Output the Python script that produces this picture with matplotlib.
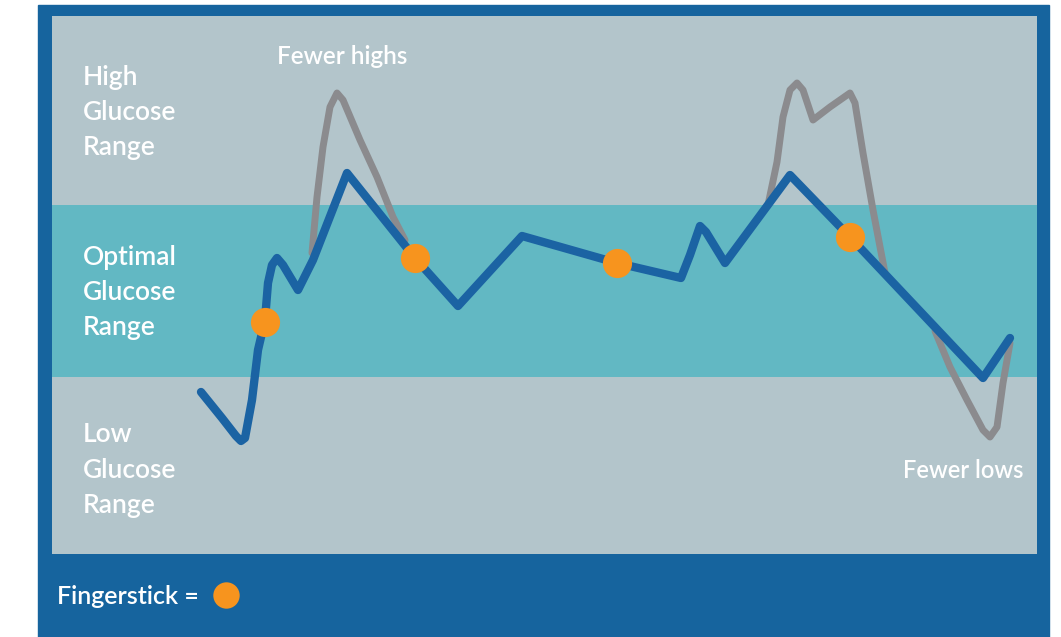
import matplotlib
matplotlib.use("Agg")
import matplotlib.pyplot as plt
from matplotlib.patches import Rectangle
from matplotlib.lines import Line2D

# time (arbitrary units) and glucose level (arbitrary units)
cgm_x = [149, 170, 184, 189, 193, 200, 206, 213, 216, 220, 225, 231, 246, 261, 295,
         363, 406, 470, 565, 629, 638, 648, 654, 673, 738, 798, 931, 958]
cgm_y = [162, 136, 118, 113, 116, 154, 204, 234, 271, 289, 296, 289, 264, 294, 381,
         296, 248, 318, 291, 276, 299, 328, 322, 291, 379, 317, 176, 216]

high1_x = [260, 265, 271, 278, 285, 291, 308, 325, 341, 353]
high1_y = [301, 357, 407, 447, 461, 454, 414, 377, 337, 314]
high2_x = [716, 725, 731, 738, 745, 751, 761, 778, 798, 803, 811, 821, 833]
high2_y = [349, 392, 437, 464, 471, 464, 434, 447, 461, 451, 401, 344, 281]
low_x = [883, 898, 915, 931, 938, 945, 951, 958]
low_y = [223, 187, 154, 124, 117, 127, 171, 211]

stick_x = [213, 363, 565, 798]
stick_y = [232, 296, 291, 317]

band_low, band_high = 177, 349
range_labels = ["High\nGlucose\nRange", "Optimal\nGlucose\nRange", "Low\nGlucose\nRange"]
range_label_y = [442, 262, 84]

frame_blue = "#16649e"
panel_gray = "#b3c5cb"
teal = "#62b8c3"
line_blue = "#1b63a3"
line_gray = "#8b8b8e"
orange = "#f7941e"

plt.rcParams["font.family"] = ["Lato", "DejaVu Sans"]

fig = plt.figure(figsize=(10.61, 6.37), dpi=100)
fig.patch.set_facecolor("white")
fig.patches.append(Rectangle((38 / 1061, 0), (1049 - 38) / 1061, (637 - 5) / 637,
                             transform=fig.transFigure, color=frame_blue, zorder=-5))

ax = fig.add_axes([52 / 1061, (637 - 554) / 637, (1037 - 52) / 1061, (554 - 16) / 637])
ax.set_zorder(2)
ax.set_facecolor(panel_gray)
ax.set_xlim(0, 985)
ax.set_ylim(0, 538)
ax.axhspan(band_low, band_high, color=teal, lw=0, zorder=0)
for s in ax.spines.values():
    s.set_visible(False)
ax.set_xticks([])
ax.set_yticks([])

for xs, ys in [(high1_x, high1_y), (high2_x, high2_y), (low_x, low_y)]:
    ax.plot(xs, ys, color=line_gray, lw=5, solid_capstyle="round",
            solid_joinstyle="round", zorder=2)
ax.plot(cgm_x, cgm_y, color=line_blue, lw=6, solid_capstyle="round",
        solid_joinstyle="round", zorder=3)
ax.plot(stick_x, stick_y, "o", color=orange, ms=21, mec="none", zorder=4)

for lab, yy in zip(range_labels, range_label_y):
    ax.text(31, yy, lab, color="white", fontsize=19, fontweight="semibold",
            ha="left", va="center", linespacing=1.5)

ax.text(290, 497, "Fewer highs", color="white", fontsize=17.5, fontweight="semibold",
        ha="center", va="center")
ax.text(911, 84, "Fewer lows", color="white", fontsize=17, fontweight="semibold",
        ha="center", va="center")

handle = Line2D([], [], marker="o", ls="", color=orange, mec="none", ms=19)
fig.legend(handles=[handle], labels=["Fingerstick ="], markerfirst=False,
           loc="center left", bbox_to_anchor=(57 / 1061, 1 - 596 / 637),
           frameon=False, handletextpad=0.6,
           handlelength=1.0, borderpad=0, borderaxespad=0,
           prop={"weight": "semibold", "size": 18})
for t in fig.legends[0].get_texts():
    t.set_color("white")

fig.savefig("out.png", dpi=100)
